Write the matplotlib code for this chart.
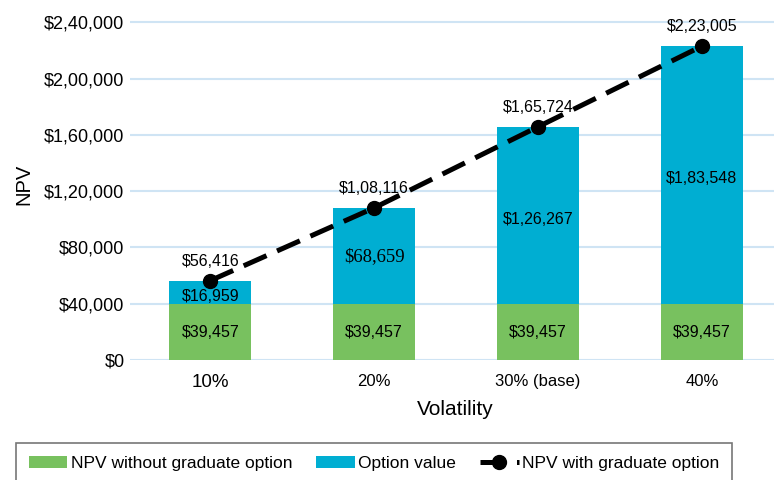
import matplotlib
matplotlib.use("Agg")
import matplotlib.pyplot as plt
import matplotlib.ticker as mticker
import numpy as np

categories = ['10%', '20%', '30% (base)', '40%']
npv_without = [39457, 39457, 39457, 39457]
option_value = [16959, 68659, 126267, 183548]
npv_with = [56416, 108116, 165724, 223005]
yticks = [0, 40000, 80000, 120000, 160000, 200000, 240000]

GREEN = '#78c15f'
BLUE = '#00aed2'
GRID = '#cfe4f4'


def inr(v):
    # Indian digit grouping: 2,40,000
    s = str(int(round(v)))
    if len(s) <= 3:
        return '$' + s
    head, tail = s[:-3], s[-3:]
    parts = []
    while len(head) > 2:
        parts.insert(0, head[-2:])
        head = head[:-2]
    if head:
        parts.insert(0, head)
    return '$' + ','.join(parts + [tail])


plt.rcParams['font.family'] = ['Liberation Sans', 'DejaVu Sans']

fig = plt.figure(figsize=(7.74, 4.8), dpi=100)
ax = fig.add_axes([0.168, 0.25, 0.832, 0.733])

x = np.arange(len(categories))
b1 = ax.bar(x, npv_without, width=0.5, color=GREEN, label='NPV without graduate option', zorder=2)
b2 = ax.bar(x, option_value, width=0.5, bottom=npv_without, color=BLUE, label='Option value', zorder=2)
ln, = ax.plot(x, npv_with, color='black', lw=3.6, ls=(0, (5, 2.3)), marker='o', ms=10,
              label='NPV with graduate option', zorder=4)

for i in range(len(x)):
    ax.text(x[i], npv_without[i] / 2, inr(npv_without[i]), ha='center', va='center',
            fontsize=11.5, zorder=5)
    mid = npv_without[i] + option_value[i] / 2
    if i == 1:
        ax.text(x[i], mid, inr(option_value[i]), ha='center', va='center',
                fontsize=13.5, family='Liberation Serif', zorder=5)
    else:
        ax.text(x[i], mid - 2500, inr(option_value[i]), ha='center', va='center',
                fontsize=11.5, zorder=5)
    ax.annotate(inr(npv_with[i]), (x[i], npv_with[i]), xytext=(0, 14),
                textcoords='offset points', ha='center', va='center',
                fontsize=11.5, zorder=5)

ax.set_xlim(-0.49, 3.44)
ax.set_ylim(0, 250000)
ax.set_yticks(yticks)
ax.yaxis.set_major_formatter(mticker.FuncFormatter(lambda v, p: inr(v)))
ax.set_xticks(x)
ax.set_xticklabels(categories)
ax.tick_params(axis='y', length=0, labelsize=13, pad=4)
ax.tick_params(axis='x', length=0, labelsize=12, pad=10)
ax.get_xticklabels()[0].set_fontsize(13.5)
ax.grid(axis='y', color=GRID, lw=1.5, zorder=0)
for s in ax.spines.values():
    s.set_visible(False)

ax.set_xlabel('Volatility', fontsize=15)
ax.xaxis.set_label_coords(0.505, -0.115)
ax.set_ylabel('NPV', fontsize=14.5, labelpad=8)

leg = fig.legend(handles=[b1, b2, ln], loc='upper left',
                 bbox_to_anchor=(16 / 774, 1 - 443 / 480), borderaxespad=0, ncol=3,
                 frameon=True, fancybox=False, edgecolor='#555555', handlelength=2.2,
                 columnspacing=1.4, handletextpad=0.2, borderpad=0.75,
                 prop={'size': 12.5})
leg.get_frame().set_linewidth(1.2)

fig.savefig('out.png', dpi=100)
